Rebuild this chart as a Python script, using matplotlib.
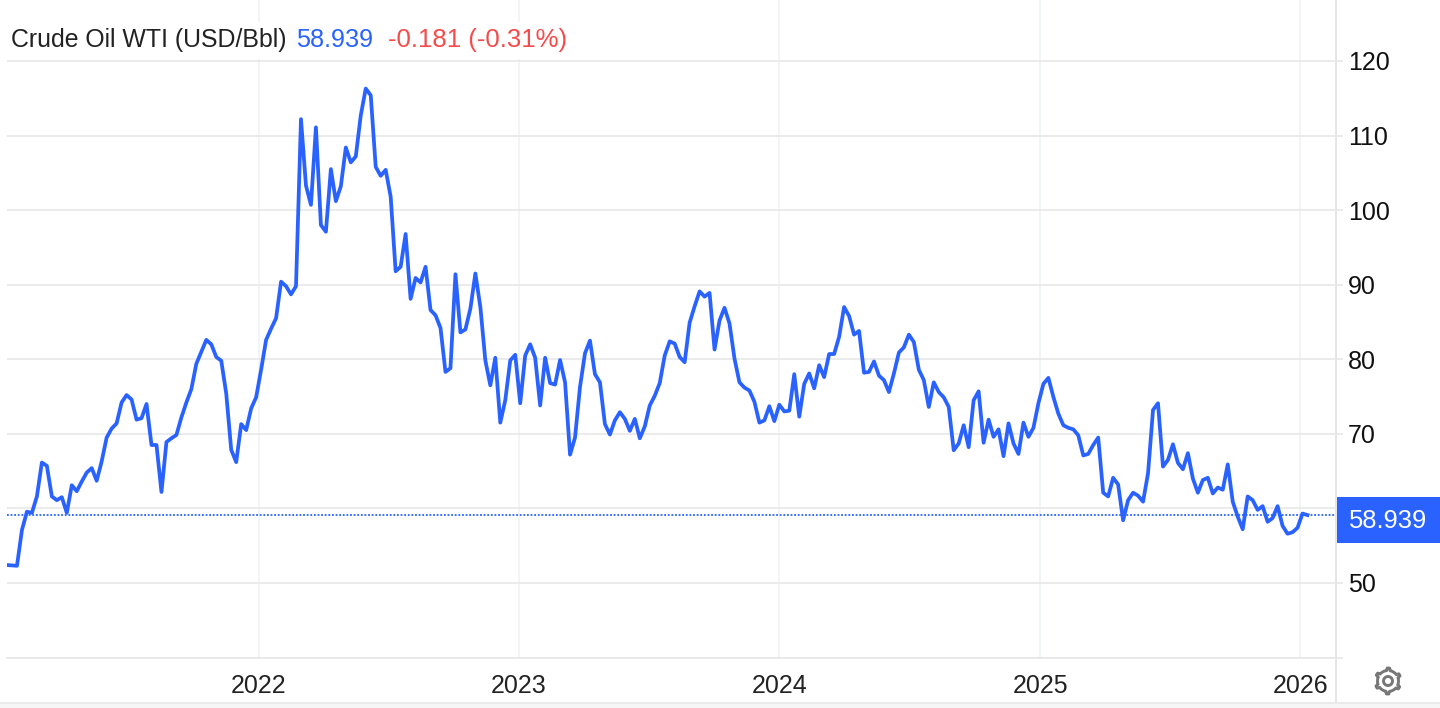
import numpy as np
import pandas as pd
import matplotlib
matplotlib.use("Agg")
import matplotlib.pyplot as plt
from matplotlib.patches import Rectangle, Polygon

plt.rcParams["font.family"] = ["Liberation Sans", "DejaVu Sans"]

# Weekly closes, split in stretches to keep it readable.
prices_2021 = [
  52.4, 52.35, 52.3, 57.1, 59.55, 59.4, 61.6, 66.15, 65.7, 61.6, 61.1, 61.5, 59.4, 63.1,
  62.3, 63.6, 64.8, 65.4, 63.7, 66.3, 69.5, 70.7, 71.4, 74.2, 75.2, 74.6, 71.9,
  72.1, 74.0, 68.5, 68.5, 62.2, 68.9, 69.4, 69.85, 72.2, 74.2, 76.0, 79.4, 81.0,
  82.6, 82.0, 80.3, 79.8, 75.4, 67.85, 66.2, 71.3, 70.5, 73.4, 74.9, 78.6, 82.6,
]
prices_2022 = [
  84.1, 85.5, 90.4, 89.8, 88.7, 89.8, 112.2, 103.3, 100.7, 111.1, 98.0, 97.1,
  105.5, 101.2, 103.2, 108.4, 106.4, 107.2, 112.7, 116.3, 115.4, 105.8, 104.6,
  105.4, 101.8, 91.8, 92.4, 96.8, 88.1, 90.9, 90.3, 92.4, 86.6, 85.9, 84.2, 78.3,
  78.8, 91.4, 83.6, 84.0, 86.8, 91.5, 87.0, 79.85, 76.5, 80.2, 71.5, 74.5, 79.85,
  80.6, 74.1, 80.5,
]
prices_2023 = [
  82.0, 80.2, 73.8, 80.2, 76.8, 76.6, 79.9, 76.9, 67.2, 69.5, 76.3, 80.8, 82.5,
  78.0, 76.9, 71.3, 69.9, 71.8, 72.9, 72.0, 70.4, 72.0, 69.4, 71.0, 73.8, 75.1,
  76.8, 80.5, 82.4, 82.1, 80.3, 79.6, 84.9, 87.1, 89.1, 88.4, 88.9, 81.3, 85.2,
  86.9, 84.8, 80.1, 76.9, 76.2, 75.8, 74.3, 71.5, 71.8, 73.7, 71.7, 73.9, 73.0,
]
prices_2024 = [
  73.1, 78.0, 72.3, 76.7, 78.1, 76.1, 79.2, 77.6, 80.7, 80.7, 83.0, 87.0, 85.8,
  83.3, 83.8, 78.2, 78.3, 79.7, 77.8, 77.2, 75.6, 78.1, 80.9, 81.6, 83.3, 82.3,
  78.6, 77.2, 73.6, 76.9, 75.6, 74.9, 73.6, 67.8, 68.7, 71.15, 68.2, 74.5, 75.7,
  68.8, 71.9, 69.6, 70.6, 67.0, 71.4, 68.7, 67.3, 71.5, 69.6, 70.8, 74.1, 76.7,
]
prices_2025 = [
  77.5, 74.95, 72.7, 71.15, 70.8, 70.6, 69.8, 67.1, 67.3, 68.5, 69.5, 62.1, 61.6,
  64.1, 63.2, 58.4, 61.1, 62.1, 61.7, 60.9, 64.7, 73.2, 74.1, 65.6, 66.5, 68.6,
  66.1, 65.25, 67.4, 64.0, 62.1, 63.8, 64.1, 62.0, 62.8, 62.5, 65.9, 60.9, 58.9,
  57.2, 61.6, 61.1, 59.8, 60.3, 58.2, 58.7, 60.3, 57.65, 56.6, 56.8, 57.4, 59.3,
  59.1,
]
prices = prices_2021 + prices_2022 + prices_2023 + prices_2024 + prices_2025
first_date = "2021-01-13"
last_date = "2026-01-11"

y_ticks = [40, 50, 60, 70, 80, 90, 100, 110, 120]
y_labels = ["", "50", "", "70", "80", "90", "100", "110", "120"]
x_years = [2022, 2023, 2024, 2025, 2026]

title_name = "Crude Oil WTI (USD/Bbl)"
last_price = "58.939"
change_text = "-0.181 (-0.31%)"

BLUE = "#2962ff"
RED = "#f44b4b"
GRID = "#e6e6e6"
VGRID = "#edf2f7"
W, H = 1440, 708

# Pixel position (from the top left) to figure fraction.
def fx(px):
  return px / W
def fy(py):
  return 1 - py / H

dates = pd.date_range(first_date, last_date, periods=len(prices))
year_ticks = [pd.Timestamp(str(y) + "-01-01") for y in x_years]

fig = plt.figure(figsize=(W / 100, H / 100), dpi=100, facecolor="white")
ax = fig.add_axes([fx(7), fy(657.5), fx(1336 - 7), fy(0) - fy(657.5)])

ax.plot(dates, prices, color=BLUE, linewidth=2.7, solid_joinstyle="round", zorder=3)
ax.axhline(prices[-1], color=BLUE, linewidth=1.3, linestyle=(0, (1, 1)), zorder=2)

ax.set_xlim(pd.Timestamp(first_date), pd.Timestamp("2026-02-20"))
ax.set_ylim(40, 128.18)
ax.set_xticks(year_ticks)
ax.set_xticklabels([str(y) for y in x_years], fontsize=18, color="#222222")
ax.set_yticks(y_ticks)
ax.set_yticklabels(y_labels, fontsize=18, color="#111111")
ax.yaxis.tick_right()
ax.tick_params(axis="x", length=0, pad=12)
ax.tick_params(axis="y", length=5, width=1.1, color=GRID, pad=3.5)
ax.grid(axis="y", color=GRID, linewidth=1.1, zorder=1)
ax.grid(axis="x", color=VGRID, linewidth=1.1, zorder=1)
for side in ["top", "left"]:
  ax.spines[side].set_visible(False)
ax.spines["bottom"].set_color(GRID)
ax.spines["bottom"].set_linewidth(1.1)
ax.spines["right"].set_color(GRID)
ax.spines["right"].set_linewidth(1.4)

# Header, its white box hides the grid behind it.
fig.add_artist(Rectangle((fx(7), fy(59)), fx(600), fy(22) - fy(59), transform=fig.transFigure,
                         facecolor="white", edgecolor="none", zorder=4))
fig.text(fx(11), fy(40), title_name, fontsize=17.9, color="#222222", va="center", zorder=5)
fig.text(fx(296), fy(40), last_price, fontsize=18.2, color=BLUE, va="center", zorder=5)
fig.text(fx(388), fy(40), change_text, fontsize=18.5, color=RED, va="center", zorder=5)

# Last price tag on the axis.
fig.add_artist(Rectangle((fx(1336.5), fy(543)), fx(104), fy(497) - fy(543), transform=fig.transFigure,
                         facecolor=BLUE, edgecolor="none", zorder=5))
fig.text(fx(1388), fy(520.5), last_price, fontsize=18.4, color="white", ha="center", va="center", zorder=6)

# Bottom strip.
fig.add_artist(Rectangle((0, 0), 1, fy(702), transform=fig.transFigure, facecolor="#f6f6f6",
                         edgecolor="none", zorder=1))
fig.add_artist(plt.Line2D([0, 1], [fy(702.5), fy(702.5)], color="#e8e8e8", linewidth=1.2))
fig.add_artist(plt.Line2D([fx(1336), fx(1336)], [fy(660), fy(702)], color=GRID, linewidth=1.4))

# Settings gear, one tooth pointing up.
gear_x, gear_y = 1388, 681
angles = np.linspace(0, 2 * np.pi, 97)
radii = [13 if (i % 16) in (15, 0, 1, 2) else 10.5 for i in range(97)]
gear = [(fx(gear_x + r * np.cos(a + np.pi / 6)), fy(gear_y + r * np.sin(a + np.pi / 6)))
        for a, r in zip(angles, radii)]
fig.add_artist(Polygon(gear, closed=True, transform=fig.transFigure, facecolor="white",
                       edgecolor="#777777", linewidth=2.1, joinstyle="round", zorder=5))
hole = Polygon([(fx(gear_x + 4.5 * np.cos(a)), fy(gear_y + 4.5 * np.sin(a))) for a in angles], closed=True,
               transform=fig.transFigure, facecolor="white", edgecolor="#777777", linewidth=2.1, zorder=6)
fig.add_artist(hole)

fig.savefig("out.png", dpi=100)
